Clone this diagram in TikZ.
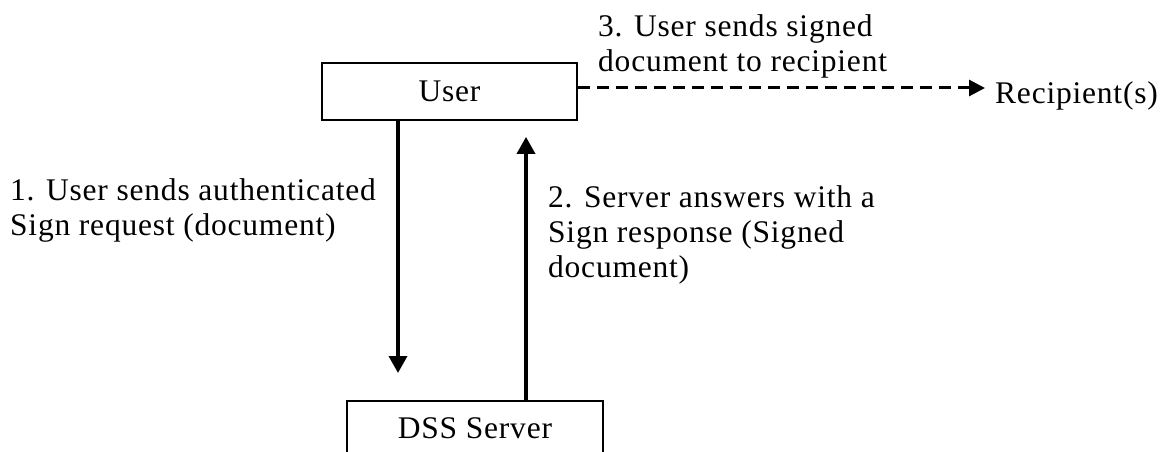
\documentclass[tikz,border=0pt]{standalone}
\usepackage{fontspec}
\setmainfont{Liberation Serif}[LetterSpace=2.5]
\usetikzlibrary{arrows.meta}

\begin{document}
\begin{tikzpicture}[x=1pt,y=-1pt,
  txt/.style={font=\fontsize{31.5}{35}\selectfont, inner sep=0pt},
  box/.style={txt, draw, line width=1.8pt},
  flow/.style={line width=3.5pt, -{Triangle[length=17pt,width=18pt]}},
  dflow/.style={line width=3pt, dash pattern=on 12pt off 7pt, -{Triangle[length=16pt,width=16pt]}}]
\useasboundingbox (0,0) rectangle (1165,452);
\clip (0,0) rectangle (1165,452);

% boxes
\node[box, minimum width=255pt, minimum height=57pt, text height=20pt, text depth=0pt]
  (user) at (449.5,91.5) {User};
\node[box, anchor=north, minimum width=256pt, inner xsep=0pt, inner ysep=18pt,
  text height=20pt, text depth=30pt] (dss) at (475,400) {DSS Server};
\node[txt, anchor=base west] (rcp) at (995,103) {Recipient(s)};

% helper coordinates for the connector positions
\coordinate (xa) at (398,0);
\coordinate (xb) at (526,0);
\coordinate (ya) at (0,88);

% request and response
\draw[flow, shorten >=27pt] (user.south -| xa) -- (dss.north -| xa);
\draw[flow, shorten >=16pt] (dss.north -| xb) -- (user.south -| xb);
% forwarding to the recipients
\draw[dflow, shorten >=10pt] (user.east |- ya) -- (rcp.west |- ya);

% step labels
\node[txt, align=left, anchor=north west] (l1) at (10,178.5)
  {1. User sends authenticated\\Sign request (document)};
\node[txt, align=left, anchor=north west] (l2) at (548,185.5)
  {2. Server answers with a\\Sign response (Signed\\document)};
\node[txt, align=left, anchor=north west] (l3) at (598,14.5)
  {3. User sends signed\\document to recipient};
\end{tikzpicture}
\end{document}
